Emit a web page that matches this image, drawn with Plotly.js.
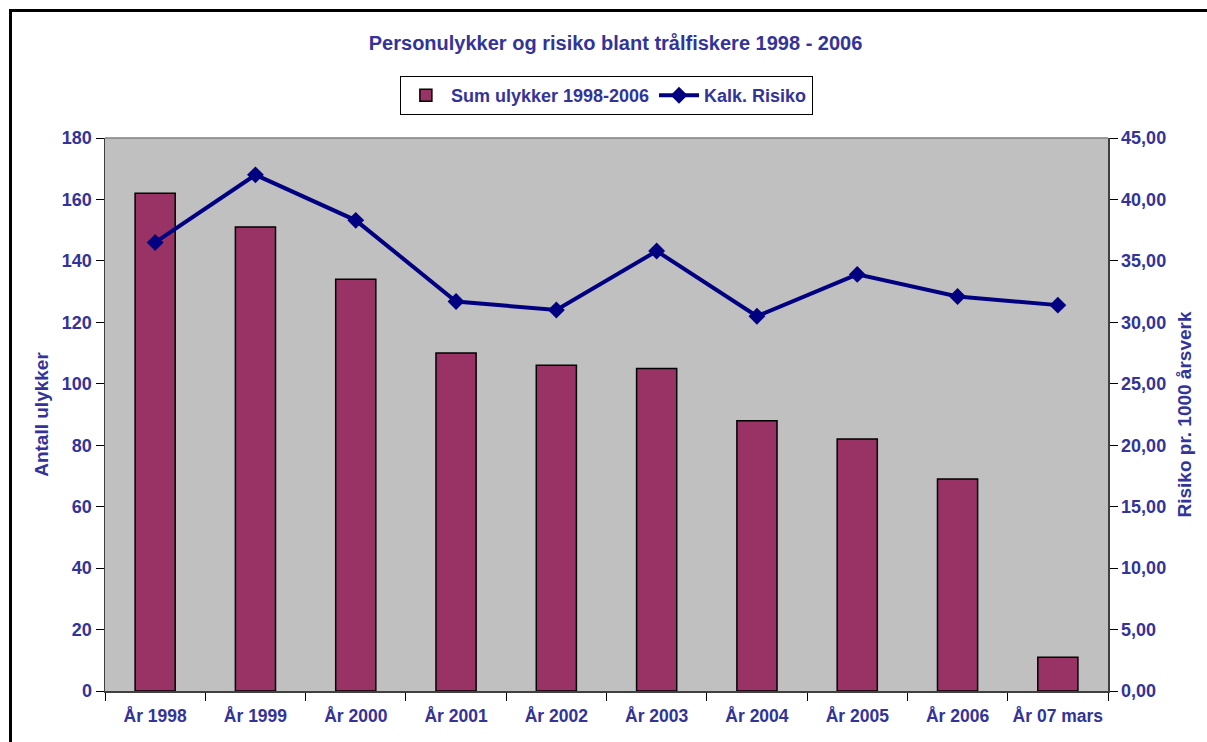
<!DOCTYPE html>
<html>
<head>
<meta charset="utf-8">
<script src="https://cdn.plot.ly/plotly-3.0.1.min.js"></script>
<style>
  body { margin: 0; background: #fff; }
  #wrap { position: relative; width: 1207px; height: 742px; overflow: hidden; }
  #frame { position: absolute; left: 9px; top: 9px; width: 1300px; height: 800px;
           border-left: 3px solid #000; border-top: 3px solid #000; pointer-events: none; }
  #chart { width: 1207px; height: 742px; }
</style>
</head>
<body>
<div id="wrap">
  <div id="chart"></div>
  <div id="frame"></div>
</div>
<script>
// Categories and series
const years = ['År 1998', 'År 1999', 'År 2000', 'År 2001', 'År 2002',
               'År 2003', 'År 2004', 'År 2005', 'År 2006', 'År 07 mars'];
const accidents = [162, 151, 134, 110, 106, 105, 88, 82, 69, 11];
const risk = [36.5, 42.0, 38.3, 31.7, 31.0, 35.8, 30.5, 33.9, 32.1, 31.4];

const textBlue = '#333399';
const family = 'Liberation Sans, Arial, sans-serif';
const tickFont = { family: family, size: 18, color: textBlue, weight: 'bold' };
const xTickFont = { family: family, size: 17.5, color: textBlue, weight: 'bold' };
const axisTitleFont = { family: family, size: 19, color: textBlue, weight: 'bold' };

const barTrace = {
  x: years,
  y: accidents,
  type: 'bar',
  name: 'Sum ulykker 1998-2006',
  width: 0.4,
  marker: { color: '#993366', line: { color: '#000', width: 1.5 } },
  yaxis: 'y'
};

const riskTrace = {
  x: years,
  y: risk,
  type: 'scatter',
  mode: 'lines+markers',
  name: 'Kalk. Risiko',
  line: { color: '#000080', width: 4 },
  marker: { symbol: 'diamond', size: 13, color: '#000080' },
  yaxis: 'y2'
};

const layout = {
  width: 1207,
  height: 742,
  paper_bgcolor: '#fff',
  plot_bgcolor: '#c0c0c0',
  separators: ',.',
  font: tickFont,
  margin: { l: 105, r: 99, t: 138, b: 51 },
  title: {
    text: 'Personulykker og risiko blant trålfiskere 1998 - 2006',
    font: { family: family, size: 20, color: textBlue, weight: 'bold' },
    x: 0.51, xanchor: 'center', y: 0.942, yanchor: 'middle'
  },
  showlegend: true,
  legend: {
    orientation: 'h',
    x: 0.294, xanchor: 'left',
    y: 1.112, yanchor: 'top',
    bordercolor: '#000', borderwidth: 1,
    bgcolor: '#fff',
    font: tickFont,
    traceorder: 'normal',
    itemwidth: 40
  },
  xaxis: {
    type: 'category',
    showgrid: false,
    showline: true, linecolor: '#404040', linewidth: 1.5,
    ticks: 'outside', tickson: 'boundaries', ticklen: 8, tickcolor: '#000',
    tickfont: xTickFont,
    tickangle: 0,
    ticklabelstandoff: 8,
    range: [-0.5, 9.5]
  },
  yaxis: {
    range: [0, 180],
    dtick: 20,
    showgrid: false,
    zeroline: false,
    showline: true, linecolor: '#404040', linewidth: 1.5,
    ticks: 'outside', ticklen: 8, tickcolor: '#000',
    tickfont: tickFont,
    title: { text: 'Antall ulykker', font: axisTitleFont, standoff: 8 }
  },
  yaxis2: {
    overlaying: 'y',
    side: 'right',
    range: [0, 45],
    dtick: 5,
    tickformat: '.2f',
    showgrid: false,
    zeroline: false,
    showline: true, linecolor: '#404040', linewidth: 1.5,
    ticks: 'outside', ticklen: 8, tickcolor: '#000',
    tickfont: tickFont,
    title: { text: 'Risiko pr. 1000 årsverk', font: axisTitleFont, standoff: 12 }
  },
  shapes: [{
    type: 'line', xref: 'paper', yref: 'paper',
    x0: 0, x1: 1, y0: 1, y1: 1,
    line: { color: '#808080', width: 1.5 }
  }]
};

Plotly.newPlot('chart', [barTrace, riskTrace], layout, { displayModeBar: false, staticPlot: true });
</script>
</body>
</html>
